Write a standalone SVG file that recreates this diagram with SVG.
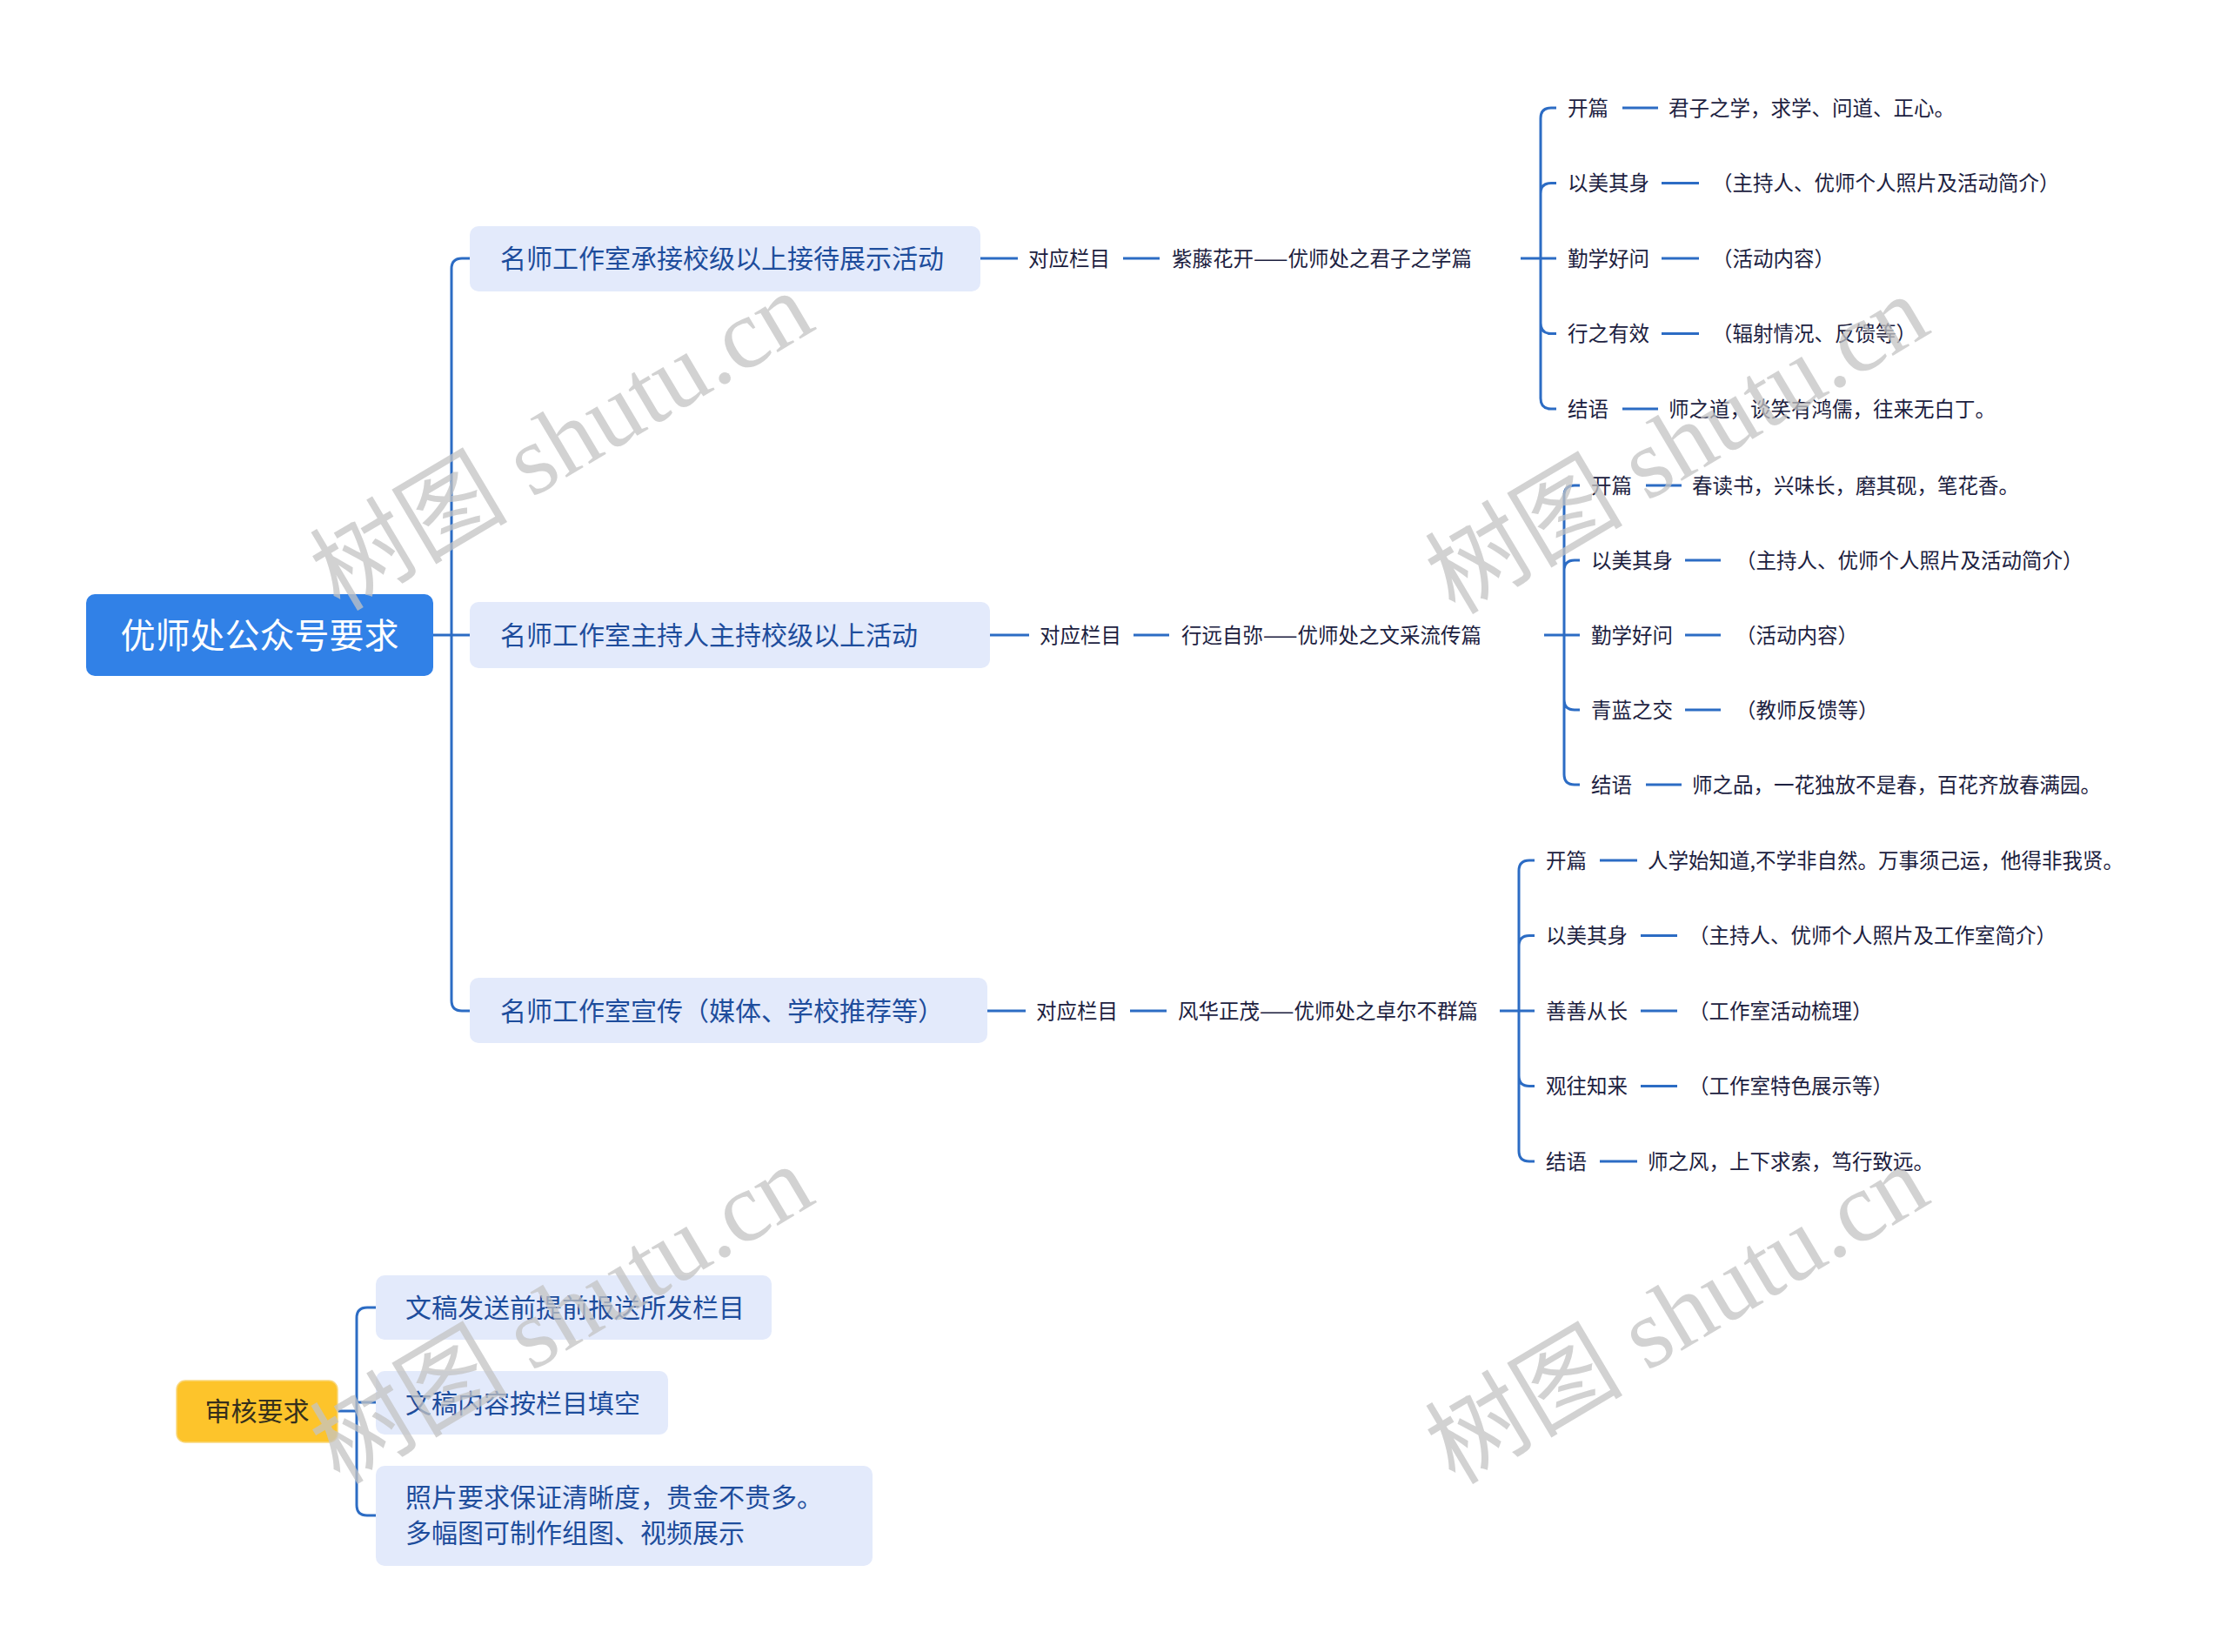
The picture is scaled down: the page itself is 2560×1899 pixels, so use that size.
<svg xmlns="http://www.w3.org/2000/svg" width="2560" height="1899" viewBox="0 0 2560 1899">
<style>
.l{stroke:#2c6cc4;stroke-width:3;fill:none}
.f{font-family:"Noto Sans CJK SC","Noto Sans",sans-serif}
.t1{font-size:30px;fill:#1e4d9c}
.t2{font-size:23.5px;fill:#1c2140}
.box{fill:#e3eafb}
.wm{font-family:"Liberation Serif","Noto Sans CJK SC",serif;font-size:114px;fill:#c4c4c4;opacity:0.75}
</style>
<rect width="2560" height="1899" fill="#ffffff"/>
<g id="connectors">
<path class="l" d="M498,730 H540 M519,730 V309 Q519,297 531,297 H540 M519,730 V1150 Q519,1162 531,1162 H540"/>
<path class="l" d="M1127,297 H1170 M1291,297 H1333 M1748,297 H1789 M1771,297 V136 Q1771,124 1783,124 H1789 M1771,297 V222.5 Q1771,210.5 1783,210.5 H1789 M1771,297 V371.5 Q1771,383.5 1783,383.5 H1789 M1771,297 V458 Q1771,470 1783,470 H1789"/>
<path class="l" d="M1865,124 H1906 M1910,210.5 H1953 M1910,297 H1953 M1910,383.5 H1953 M1865,470 H1906"/>
<path class="l" d="M1138,730 H1183 M1303,730 H1344 M1775,730 H1816 M1798,730 V570 Q1798,558 1810,558 H1816 M1798,730 V656 Q1798,644 1810,644 H1816 M1798,730 V804 Q1798,816 1810,816 H1816 M1798,730 V890 Q1798,902 1810,902 H1816"/>
<path class="l" d="M1892,558 H1933 M1937,644 H1978 M1937,730 H1978 M1937,816 H1978 M1892,902 H1933"/>
<path class="l" d="M1135,1162 H1179 M1299,1162 H1341 M1724,1162 H1764 M1746,1162 V1001 Q1746,989 1758,989 H1764 M1746,1162 V1087.5 Q1746,1075.5 1758,1075.5 H1764 M1746,1162 V1236.5 Q1746,1248.5 1758,1248.5 H1764 M1746,1162 V1323 Q1746,1335 1758,1335 H1764"/>
<path class="l" d="M1839,989 H1882 M1886,1075.5 H1928 M1886,1162 H1928 M1886,1248.5 H1928 M1839,1335 H1882"/>
<path class="l" d="M388,1622 H410 M410,1622 V1515 Q410,1503 422,1503 H432 M410,1612 H432 M410,1622 V1730 Q410,1742 422,1742 H432"/>
</g>
<g id="root">
<rect x="99" y="683" width="399" height="94" rx="10" fill="#3181e7"/>
<text class="f" x="298.5" y="744.5" font-size="40" fill="#ffffff" text-anchor="middle">优师处公众号要求</text>
</g>
<g id="n1">
<rect class="box" x="540" y="260" width="587" height="75" rx="10"/>
<text class="f t1" x="575" y="308">名师工作室承接校级以上接待展示活动</text>
</g>
<g id="n1-col"><text class="f t2" x="1182" y="305.5">对应栏目</text></g>
<g id="n1-name"><text class="f t2" x="1347" y="305.5">紫藤花开——优师处之君子之学篇</text></g>
<g id="n1-c1"><text class="f t2" x="1802" y="132.5">开篇</text><text class="f t2" x="1918" y="132.5">君子之学，求学、问道、正心。</text></g>
<g id="n1-c2"><text class="f t2" x="1802" y="219">以美其身</text><text class="f t2" x="1968" y="219">（主持人、优师个人照片及活动简介）</text></g>
<g id="n1-c3"><text class="f t2" x="1802" y="305.5">勤学好问</text><text class="f t2" x="1968" y="305.5">（活动内容）</text></g>
<g id="n1-c4"><text class="f t2" x="1802" y="392">行之有效</text><text class="f t2" x="1968" y="392">（辐射情况、反馈等）</text></g>
<g id="n1-c5"><text class="f t2" x="1802" y="478.5">结语</text><text class="f t2" x="1918" y="478.5">师之道，谈笑有鸿儒，往来无白丁。</text></g>
<g id="n2">
<rect class="box" x="540" y="692" width="598" height="76" rx="10"/>
<text class="f t1" x="575" y="741">名师工作室主持人主持校级以上活动</text>
</g>
<g id="n2-col"><text class="f t2" x="1195" y="738.5">对应栏目</text></g>
<g id="n2-name"><text class="f t2" x="1358" y="738.5">行远自弥——优师处之文采流传篇</text></g>
<g id="n2-c1"><text class="f t2" x="1829" y="566.5">开篇</text><text class="f t2" x="1945" y="566.5">春读书，兴味长，磨其砚，笔花香。</text></g>
<g id="n2-c2"><text class="f t2" x="1829" y="652.5">以美其身</text><text class="f t2" x="1995" y="652.5">（主持人、优师个人照片及活动简介）</text></g>
<g id="n2-c3"><text class="f t2" x="1829" y="738.5">勤学好问</text><text class="f t2" x="1995" y="738.5">（活动内容）</text></g>
<g id="n2-c4"><text class="f t2" x="1829" y="824.5">青蓝之交</text><text class="f t2" x="1995" y="824.5">（教师反馈等）</text></g>
<g id="n2-c5"><text class="f t2" x="1829" y="910.5">结语</text><text class="f t2" x="1945" y="910.5">师之品，一花独放不是春，百花齐放春满园。</text></g>
<g id="n3">
<rect class="box" x="540" y="1124" width="595" height="75" rx="10"/>
<text class="f t1" x="575" y="1173">名师工作室宣传（媒体、学校推荐等）</text>
</g>
<g id="n3-col"><text class="f t2" x="1191" y="1170.5">对应栏目</text></g>
<g id="n3-name"><text class="f t2" x="1354" y="1170.5">风华正茂——优师处之卓尔不群篇</text></g>
<g id="n3-c1"><text class="f t2" x="1777" y="997.5">开篇</text><text class="f t2" x="1894" y="997.5">人学始知道,不学非自然。万事须己运，他得非我贤。</text></g>
<g id="n3-c2"><text class="f t2" x="1777" y="1084">以美其身</text><text class="f t2" x="1941" y="1084">（主持人、优师个人照片及工作室简介）</text></g>
<g id="n3-c3"><text class="f t2" x="1777" y="1170.5">善善从长</text><text class="f t2" x="1941" y="1170.5">（工作室活动梳理）</text></g>
<g id="n3-c4"><text class="f t2" x="1777" y="1257">观往知来</text><text class="f t2" x="1941" y="1257">（工作室特色展示等）</text></g>
<g id="n3-c5"><text class="f t2" x="1777" y="1343.5">结语</text><text class="f t2" x="1894" y="1343.5">师之风，上下求索，笃行致远。</text></g>
<g id="audit">
<rect x="203" y="1587" width="185" height="71" rx="10" fill="#fdc42b" stroke="#f9d77c" stroke-width="1.5"/>
<text class="f" x="295.5" y="1633" font-size="30" fill="#352f1c" text-anchor="middle">审核要求</text>
</g>
<g id="a1">
<rect class="box" x="432" y="1466" width="455" height="74" rx="10"/>
<text class="f t1" x="466" y="1514">文稿发送前提前报送所发栏目</text>
</g>
<g id="a2">
<rect class="box" x="432" y="1576" width="336" height="73" rx="10"/>
<text class="f t1" x="466" y="1623.5">文稿内容按栏目填空</text>
</g>
<g id="a3">
<rect class="box" x="432" y="1685" width="571" height="115" rx="10"/>
<text class="f t1" x="466" y="1732">照片要求保证清晰度，贵金不贵多。</text>
<text class="f t1" x="466" y="1773">多幅图可制作组图、视频展示</text>
</g>
<g id="watermarks">
<text class="wm" text-anchor="middle" x="645" y="546" transform="rotate(-30.7 645 506)">树图 shutu.cn</text>
<text class="wm" text-anchor="middle" x="1927" y="550" transform="rotate(-30.7 1927 510)">树图 shutu.cn</text>
<text class="wm" text-anchor="middle" x="645" y="1550" transform="rotate(-30.7 645 1510)">树图 shutu.cn</text>
<text class="wm" text-anchor="middle" x="1927" y="1550" transform="rotate(-30.7 1927 1510)">树图 shutu.cn</text>
</g>
</svg>
